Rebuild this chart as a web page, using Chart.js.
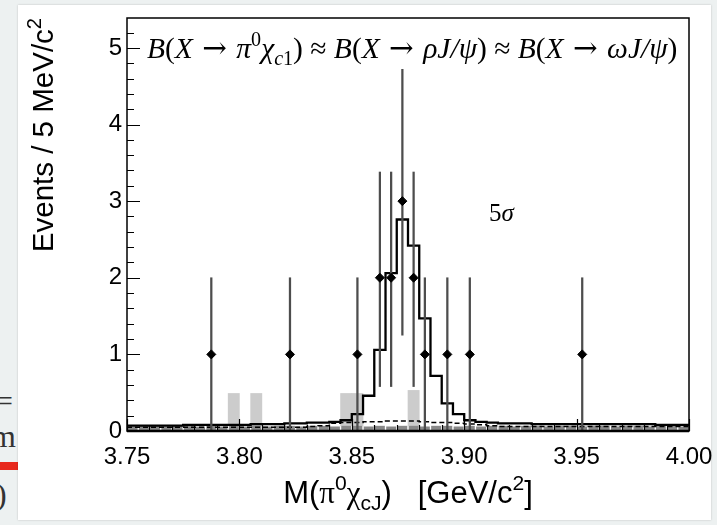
<!DOCTYPE html>
<html>
<head>
<meta charset="utf-8">
<script src="https://cdn.jsdelivr.net/npm/chart.js@4.4.1/dist/chart.umd.min.js"></script>
<style>
  html, body { margin: 0; padding: 0; background: #edf1f1; }
  #wrap { position: relative; width: 717px; height: 525px; overflow: hidden; }
  #panel { position: absolute; left: 18px; top: 5px; width: 693px; height: 515px; background: #fff;
           box-shadow: 0 0 2px rgba(0,0,0,0.2); }
  #c { position: absolute; left: 0; top: 0; }
  .edge { position: absolute; font-family: "Liberation Serif", serif; color: #333; line-height: 1; }
</style>
</head>
<body>
<div id="wrap">
  <div class="edge" style="left:-4px;top:386px;font-size:30px;">=</div>
  <div class="edge" style="left:-9px;top:420px;font-size:32px;">m</div>
  <div style="position:absolute;left:0;top:462px;width:18px;height:8px;background:#e8281c;"></div>
  <div class="edge" style="left:-4px;top:478px;font-size:32px;">)</div>
  <div id="panel"></div>
  <canvas id="c" width="717" height="525"></canvas>
</div>
<script>
/* ============== Data ============== */

// 5 MeV bins between 3.75 and 4.00 GeV/c^2
const binEdges = [
  3.750, 3.755, 3.760, 3.765, 3.770, 3.775, 3.780, 3.785, 3.790, 3.795,
  3.800, 3.805, 3.810, 3.815, 3.820, 3.825, 3.830, 3.835, 3.840, 3.845,
  3.850, 3.855, 3.860, 3.865, 3.870, 3.875, 3.880, 3.885, 3.890, 3.895,
  3.900, 3.905, 3.910, 3.915, 3.920, 3.925, 3.930, 3.935, 3.940, 3.945,
  3.950, 3.955, 3.960, 3.965, 3.970, 3.975, 3.980, 3.985, 3.990, 3.995, 4.000
];

// solid step histogram (signal + background expectation)
const signalFit = [
  0.07, 0.07, 0.07, 0.07, 0.07, 0.08, 0.08, 0.08, 0.08, 0.08,
  0.08, 0.09, 0.09, 0.09, 0.10, 0.10, 0.11, 0.11, 0.12, 0.14,
  0.22, 0.46, 1.06, 2.06, 2.76, 2.42, 1.47, 0.72, 0.36, 0.22,
  0.14, 0.12, 0.11, 0.10, 0.10, 0.10, 0.09, 0.09, 0.09, 0.09,
  0.09, 0.09, 0.09, 0.09, 0.09, 0.09, 0.09, 0.08, 0.08, 0.08
];

// dashed histogram
const dashedBkg = [
  0.05, 0.05, 0.05, 0.05, 0.05, 0.05, 0.05, 0.05, 0.05, 0.05,
  0.05, 0.05, 0.05, 0.05, 0.05, 0.05, 0.06, 0.07, 0.10, 0.11,
  0.11, 0.12, 0.12, 0.13, 0.13, 0.13, 0.12, 0.11, 0.11, 0.10,
  0.09, 0.08, 0.07, 0.06, 0.06, 0.06, 0.06, 0.06, 0.06, 0.06,
  0.06, 0.06, 0.06, 0.06, 0.06, 0.06, 0.06, 0.06, 0.06, 0.06
];

// light grey filled histogram
const peakingBkg = [
  0, 0, 0, 0, 0, 0, 0, 0, 0, 0.49,
  0, 0.49, 0, 0, 0, 0, 0, 0, 0, 0.49,
  0.49, 0, 0, 0, 0, 0.53, 0, 0, 0, 0,
  0, 0, 0, 0, 0, 0, 0, 0, 0, 0,
  0, 0, 0, 0, 0, 0, 0, 0, 0, 0
];

// dark grey filled histogram along the bottom
const combBkg = [
  0.06, 0.07, 0.07, 0.06, 0.07, 0.07, 0.06, 0.07, 0.06, 0.07,
  0.06, 0.07, 0.06, 0.07, 0.07, 0.06, 0.07, 0.07, 0.06, 0.07,
  0.07, 0.06, 0.07, 0.06, 0.07, 0.07, 0.06, 0.07, 0.07, 0.06,
  0.07, 0.06, 0.07, 0.07, 0.06, 0.07, 0.07, 0.06, 0.07, 0.07,
  0.06, 0.07, 0.07, 0.06, 0.07, 0.07, 0.06, 0.07, 0.07, 0.06
];

// data points with error bars
const dataMass    = [3.7875, 3.8225, 3.8525, 3.8625, 3.8675, 3.8725, 3.8775, 3.8825, 3.8925, 3.9025, 3.9525];
const dataEvents  = [1, 1, 1, 2, 2, 3, 2, 1, 1, 1, 1];
const dataErrLow  = [1, 1, 1, 1.42, 1.42, 1.75, 1.42, 1, 1, 1, 1];
const dataErrHigh = [1, 1, 1, 1.38, 1.38, 1.72, 1.38, 1, 1, 1, 1];

// axes
const xTickValues = [3.75, 3.80, 3.85, 3.90, 3.95, 4.00];
const xTickLabels = ['3.75', '3.80', '3.85', '3.90', '3.95', '4.00'];
const yTickValues = [0, 1, 2, 3, 4, 5];
const yTickLabels = ['0', '1', '2', '3', '4', '5'];


/* ============== Helpers ============== */

const SANS = '"Liberation Sans", Arial, sans-serif';
const SERIF = '"Liberation Serif", "Times New Roman", serif';
const ARROW = '"DejaVu Serif", serif';

function binCenters() {
  const c = [];
  for (let i = 0; i < binEdges.length - 1; i++) {
    c.push((binEdges[i] + binEdges[i + 1]) / 2);
  }
  return c;
}

/**
 * Points for a stepped line that follows a histogram from the first to the last edge.
 */
function stepPoints(values) {
  const pts = values.map((v, i) => ({x: binEdges[i], y: v}));
  pts.push({x: binEdges[binEdges.length - 1], y: values[values.length - 1]});
  return pts;
}

function barPoints(values) {
  const centers = binCenters();
  return values.map((v, i) => ({x: centers[i], y: v}));
}

function partFont(p, fam, size) {
  const s = p.pos ? size * 0.68 : size;
  return (p.it ? 'italic ' : '') + s.toFixed(1) + 'px ' + (p.fam || fam);
}

function richWidth(ctx, parts, fam, size) {
  let w = 0;
  parts.forEach(p => {
    ctx.font = partFont(p, fam, size);
    w += ctx.measureText(p.t).width;
  });
  return w;
}

/**
 * Draws a line of text made of pieces that may be italic, super- or subscript.
 */
function drawRich(ctx, parts, fam, size, x, y, align) {
  const w = richWidth(ctx, parts, fam, size);
  let cx = x;
  if (align === 'right') cx = x - w;
  if (align === 'center') cx = x - w / 2;
  ctx.textAlign = 'left';
  ctx.textBaseline = 'alphabetic';
  parts.forEach(p => {
    ctx.font = partFont(p, fam, size);
    let dy = 0;
    if (p.pos === 'sup') dy = -size * 0.42;
    if (p.pos === 'sub') dy = size * 0.24;
    ctx.fillText(p.t, cx, y + dy);
    cx += ctx.measureText(p.t).width;
  });
}

const arrow = {t: ' \u2192 ', fam: ARROW};

const annotationParts = [
  {t: 'B', it: true}, {t: '('}, {t: 'X', it: true}, arrow,
  {t: '\u03c0', it: true}, {t: '0', pos: 'sup'}, {t: '\u03c7', it: true},
  {t: 'c', it: true, pos: 'sub'}, {t: '1', pos: 'sub'}, {t: ')'},
  {t: ' \u2248 '},
  {t: 'B', it: true}, {t: '('}, {t: 'X', it: true}, arrow,
  {t: '\u03c1J/\u03c8', it: true}, {t: ')'},
  {t: ' \u2248 '},
  {t: 'B', it: true}, {t: '('}, {t: 'X', it: true}, arrow,
  {t: '\u03c9J/\u03c8', it: true}, {t: ')'}
];

const sigmaParts = [{t: '5'}, {t: '\u03c3', it: true}];

const xTitleParts = [
  {t: 'M('}, {t: '\u03c0', fam: SERIF}, {t: '0', pos: 'sup'}, {t: '\u03c7', fam: SERIF},
  {t: 'cJ', pos: 'sub'}, {t: ')   [GeV/c'}, {t: '2', pos: 'sup'}, {t: ']'}
];

const yTitleParts = [{t: 'Events / 5 MeV/c'}, {t: '2', pos: 'sup'}];


/* ============== Frame, ticks and labels drawn on top ============== */

const frameAndText = {
  id: 'frameAndText',
  afterDraw(chart) {
    const {ctx, chartArea: a, scales: {x, y}} = chart;
    ctx.save();

    // inner ticks on the left axis
    ctx.strokeStyle = '#000';
    ctx.lineWidth = 1.2;
    ctx.beginPath();
    for (let k = 0; k <= 27; k++) {
      const v = k * 0.2;
      if (v > y.max) break;
      const py = Math.round(y.getPixelForValue(v)) + 0.5;
      const len = (k % 5 === 0) ? 13 : 7;
      ctx.moveTo(a.left, py);
      ctx.lineTo(a.left + len, py);
    }
    // inner ticks on the bottom axis
    for (let k = 0; k <= 25; k++) {
      const v = 3.75 + k * 0.01;
      const px = Math.round(x.getPixelForValue(v)) + 0.5;
      const len = (k % 5 === 0) ? 12 : 6;
      ctx.moveTo(px, a.bottom);
      ctx.lineTo(px, a.bottom - len);
    }
    ctx.stroke();

    // frame
    ctx.lineWidth = 1.5;
    ctx.strokeRect(a.left, a.top, a.right - a.left, a.bottom - a.top);
    ctx.lineWidth = 2.5;
    ctx.beginPath();
    ctx.moveTo(a.left, a.bottom);
    ctx.lineTo(a.right, a.bottom);
    ctx.stroke();

    ctx.fillStyle = '#000';
    drawRich(ctx, annotationParts, SERIF, 29.5, a.left + 20, 58, 'left');
    drawRich(ctx, sigmaParts, SERIF, 25, 489, 221, 'left');
    drawRich(ctx, xTitleParts, SANS, 31, (a.left + a.right) / 2, 503, 'center');

    ctx.translate(53, a.top);
    ctx.rotate(-Math.PI / 2);
    drawRich(ctx, yTitleParts, SANS, 29.5, 0, 0, 'right');
    ctx.restore();
  }
};


/* ============== Chart ============== */

function buildDatasets() {
  return [
    {
      type: 'line',
      label: 'data',
      data: dataMass.map((m, i) => ({x: m, y: dataEvents[i]})),
      showLine: false,
      pointStyle: 'rectRot',
      pointRadius: 4.5,
      pointBackgroundColor: '#000',
      pointBorderColor: '#000',
      order: 0
    },
    {
      type: 'bar',
      label: 'errors',
      data: dataMass.map((m, i) => ({x: m, y: [dataEvents[i] - dataErrLow[i], dataEvents[i] + dataErrHigh[i]]})),
      backgroundColor: '#4d4d4d',
      barThickness: 1.6,
      grouped: false,
      order: 1
    },
    {
      type: 'line',
      label: 'fit',
      data: stepPoints(signalFit),
      stepped: true,
      borderColor: '#000',
      borderWidth: 2.3,
      pointRadius: 0,
      order: 2
    },
    {
      type: 'line',
      label: 'dashed',
      data: stepPoints(dashedBkg),
      stepped: true,
      borderColor: '#000',
      borderWidth: 1.5,
      borderDash: [5, 3],
      pointRadius: 0,
      order: 3
    },
    {
      type: 'bar',
      label: 'combinatorial',
      data: barPoints(combBkg),
      backgroundColor: '#888888',
      borderColor: '#ffffff',
      borderWidth: {left: 1, right: 1, top: 0, bottom: 0},
      borderSkipped: false,
      categoryPercentage: 1,
      barPercentage: 1,
      grouped: false,
      order: 4
    },
    {
      type: 'bar',
      label: 'peaking',
      data: barPoints(peakingBkg),
      backgroundColor: '#cccccc',
      categoryPercentage: 1,
      barPercentage: 1,
      grouped: false,
      order: 5
    }
  ];
}

const chart = new Chart(document.getElementById('c'), {
  type: 'bar',
  data: {datasets: buildDatasets()},
  options: {
    responsive: false,
    animation: false,
    events: [],
    layout: {padding: {top: 18, right: 28, left: 0, bottom: 0}},
    plugins: {legend: {display: false}, tooltip: {enabled: false}},
    scales: {
      x: {
        type: 'linear',
        offset: false,
        min: 3.75,
        max: 4.0,
        grid: {display: false, drawTicks: false},
        border: {display: false},
        afterBuildTicks: s => { s.ticks = xTickValues.map(v => ({value: v})); },
        afterFit: s => { s.height = 94; s.paddingLeft = 0; s.paddingRight = 0; },
        ticks: {
          padding: 12,
          maxRotation: 0,
          color: '#000',
          font: {family: SANS, size: 24},
          callback: (v, i) => xTickLabels[i]
        }
      },
      y: {
        min: 0,
        max: 5.39,
        grid: {display: false, drawTicks: false},
        border: {display: false},
        afterBuildTicks: s => { s.ticks = yTickValues.map(v => ({value: v})); },
        afterFit: s => { s.width = 127; s.paddingTop = 0; s.paddingBottom = 0; },
        ticks: {
          padding: 5,
          color: '#000',
          font: {family: SANS, size: 24},
          callback: (v, i) => yTickLabels[i]
        }
      }
    }
  },
  plugins: [frameAndText]
});
</script>
</body>
</html>
